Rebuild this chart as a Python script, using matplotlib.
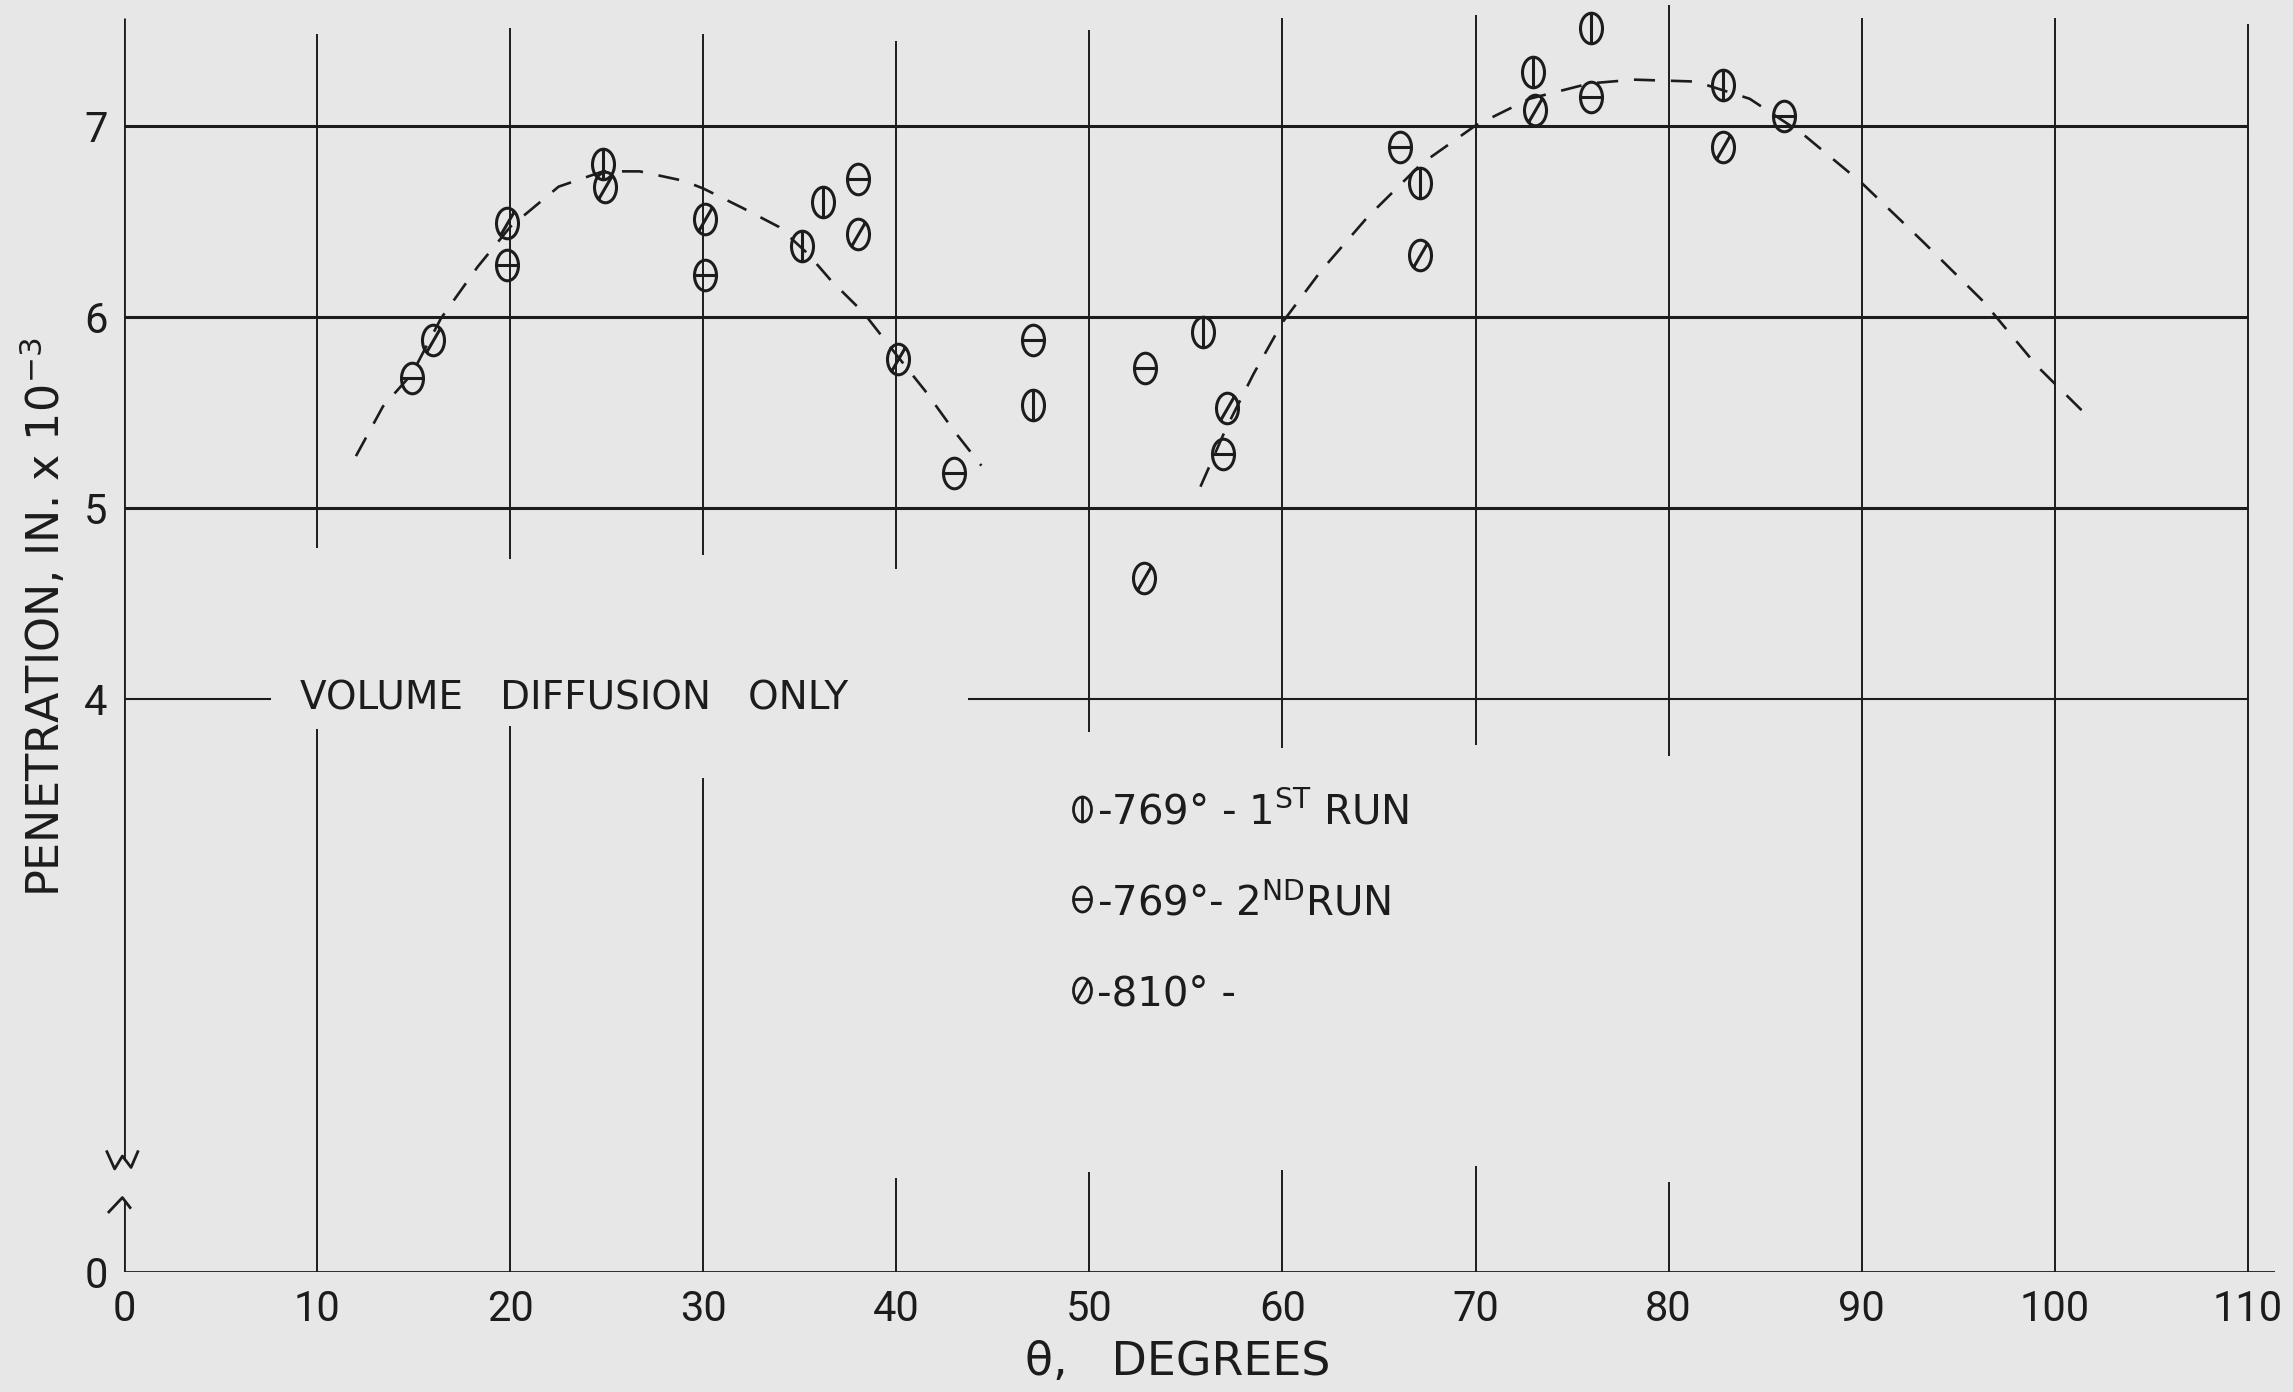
import numpy as np
import matplotlib
matplotlib.use("Agg")
import matplotlib.pyplot as plt
from matplotlib.path import Path
from matplotlib.transforms import Affine2D

# ---------------- data ----------------
run1_x = [24.8, 35.1, 36.2, 47.1, 55.9, 67.1, 73.0, 76.0, 82.8]
run1_y = [6.80, 6.37, 6.60, 5.54, 5.92, 6.70, 7.28, 7.51, 7.21]

run2_x = [14.9, 19.8, 30.1, 38.0, 43.0, 47.1, 52.9, 56.9, 66.1, 76.0, 86.0]
run2_y = [5.68, 6.27, 6.22, 6.72, 5.18, 5.88, 5.73, 5.28, 6.89, 7.15, 7.05]

r810_x = [16.0, 19.8, 24.9, 30.1, 38.0, 40.1, 52.8, 57.1, 67.1, 73.1, 82.8]
r810_y = [5.88, 6.49, 6.68, 6.51, 6.43, 5.78, 4.63, 5.52, 6.32, 7.08, 6.89]

curve1_x = [12.0, 13.4, 14.9, 16.4, 18.3, 20.0, 22.5, 24.8, 26.7, 29.0, 30.0,
            32.0, 33.9, 35.4, 36.6, 38.3, 40.0, 41.5, 43.0, 44.4]
curve1_y = [5.27, 5.53, 5.70, 5.99, 6.26, 6.47, 6.68, 6.76, 6.76, 6.71, 6.67,
            6.57, 6.47, 6.33, 6.19, 6.02, 5.80, 5.61, 5.40, 5.22]

curve2_x = [55.75, 57.1, 58.5, 60.0, 62.0, 64.4, 67.2, 70.0, 72.8, 75.9, 78.2,
            81.4, 84.2, 86.9, 90.0, 93.2, 96.3, 99.1, 101.5]
curve2_y = [5.11, 5.42, 5.70, 5.97, 6.24, 6.52, 6.80, 7.00, 7.14, 7.22, 7.24,
            7.23, 7.14, 6.96, 6.70, 6.39, 6.08, 5.74, 5.50]

x_ticks = [0, 10, 20, 30, 40, 50, 60, 70, 80, 90, 100, 110]
x_ticklabels = ["0", "10", "20", "30", "40", "50", "60", "70", "80", "90", "100", "110"]
y_ticks = [0, 4, 5, 6, 7]
y_ticklabels = ["0", "4", "5", "6", "7"]

legend_labels = [r"-769° - 1$^{\mathrm{ST}}$ RUN",
                 r"-769°- 2$^{\mathrm{ND}}$RUN",
                 r"-810° -"]

# hand-drawn grid segments (x, y_low, y_high)
vseg_x  = [10, 10, 20, 20, 30, 30, 40, 40, 50, 50, 60, 60, 70, 70, 80, 80, 90, 100, 110]
vseg_lo = [4.79, 0, 4.73, 0, 4.75, 0, 4.68, 0, 3.77, 0, 3.66, 0, 3.68, 0, 3.60, 0, 0, 0, 0]
vseg_hi = [7.48, 3.79, 7.51, 3.81, 7.48, 3.45, 7.44, 0.66, 7.50, 0.70, 7.56, 0.71,
           7.58, 0.74, 7.63, 0.63, 7.56, 7.56, 7.53]

# ---------------- style ----------------
BG = "#e7e7e7"
INK = "#1c1c1c"
WORDS = ["DejaVu Sans"]
DIGITS = ["Roboto", "DejaVu Sans"]
plt.rcParams["font.family"] = ["DejaVu Sans"]
plt.rcParams["mathtext.fontset"] = "dejavusans"

fig = plt.figure(figsize=(22.93, 13.92), dpi=100, facecolor=BG)
ax = fig.add_axes([0.05421, 0.08613, 0.9378, 0.9102])
ax.set_facecolor(BG)


def fwd(y):
    y = np.asarray(y, dtype=float)
    return np.where(y < 4, y * 0.75, y - 1.0)


def inv(z):
    z = np.asarray(z, dtype=float)
    return np.where(z < 3, z / 0.75, z + 1.0)


ax.set_yscale("function", functions=(fwd, inv))
ax.set_xlim(0, 111.4)
ax.set_ylim(0, 7.63)
for s in ax.spines.values():
    s.set_visible(False)

# grid as drawn
ax.vlines(vseg_x, vseg_lo, vseg_hi, colors=INK, lw=1.4, zorder=1)
ax.hlines([7, 6, 5], 0, 110, colors=INK, lw=2.2, zorder=1)
ax.hlines([4, 4], [0, 43.7], [7.6, 110], colors=INK, lw=1.5, zorder=1)
ax.hlines([0], 0, 111.4, colors=INK, lw=2.0, zorder=1)
# left axis with break
ax.vlines([0, 0], [0, 0.78], [0.50, 7.56], colors=INK, lw=2.0, zorder=1)
ax.plot([-0.8, -0.1, 0.3], [0.42, 0.52, 0.45], color=INK, lw=2.0, clip_on=False)
ax.plot([-0.9, -0.5, -0.1, 0.35, 0.7], [0.84, 0.72, 0.81, 0.73, 0.84], color=INK, lw=2.0,
        clip_on=False)

ax.set_xticks(x_ticks)
ax.set_xticklabels(x_ticklabels, fontfamily=DIGITS)
ax.set_yticks(y_ticks)
ax.set_yticklabels(y_ticklabels, fontfamily=DIGITS)
ax.yaxis.set_minor_locator(matplotlib.ticker.NullLocator())
ax.tick_params(length=0, pad=12, labelsize=30, colors=INK)

# ---------------- markers ----------------
ell = Affine2D().scale(0.36, 0.5).transform_path(Path.unit_circle())
mk_v = Path.make_compound_path(ell, Path([(0, -0.5), (0, 0.5)], [Path.MOVETO, Path.LINETO]))
mk_h = Path.make_compound_path(ell, Path([(-0.36, 0), (0.36, 0)], [Path.MOVETO, Path.LINETO]))
mk_d = Path.make_compound_path(ell, Path([(-0.22, -0.38), (0.22, 0.38)], [Path.MOVETO, Path.LINETO]))

mstyle = dict(ls="none", mfc="none", mec=INK, mew=2.2, ms=22, zorder=3)
ax.plot(run1_x, run1_y, marker=mk_v, **mstyle)
ax.plot(run2_x, run2_y, marker=mk_h, **mstyle)
ax.plot(r810_x, r810_y, marker=mk_d, **mstyle)

# dashed curves
ax.plot(curve1_x, curve1_y, color=INK, lw=1.9, dashes=(8, 6), zorder=2)
ax.plot(curve2_x, curve2_y, color=INK, lw=1.9, dashes=(8, 6), zorder=2)

# ---------------- texts ----------------
ax.text(9.1, 4, "VOLUME   DIFFUSION   ONLY", fontsize=28, color=INK,
        ha="left", va="center", fontfamily=WORDS)

leg_y = [0.3658, 0.2943, 0.2227]
leg_mk = [mk_v, mk_h, mk_d]
for yy, mk, lab in zip(leg_y, leg_mk, legend_labels):
    ax.plot([0.4454], [yy], transform=ax.transAxes, marker=mk, ls="none",
            mfc="none", mec=INK, mew=2.0, ms=18, clip_on=False)
    ax.text(0.4525, yy - 0.0125, lab, transform=ax.transAxes, fontsize=29,
            color=INK, ha="left", va="baseline", fontfamily=WORDS)

ax.text(0.490, -0.0716, "θ,   DEGREES", transform=ax.transAxes, fontsize=33,
        color=INK, ha="center", va="center", fontfamily=WORDS)
ax.text(-0.0374, 0.517, r"PENETRATION, IN. x 10$^{-3}$", transform=ax.transAxes,
        fontsize=32, color=INK, ha="center", va="center", rotation=90,
        fontfamily=WORDS)

fig.savefig("out.png", dpi=100, facecolor=BG)
